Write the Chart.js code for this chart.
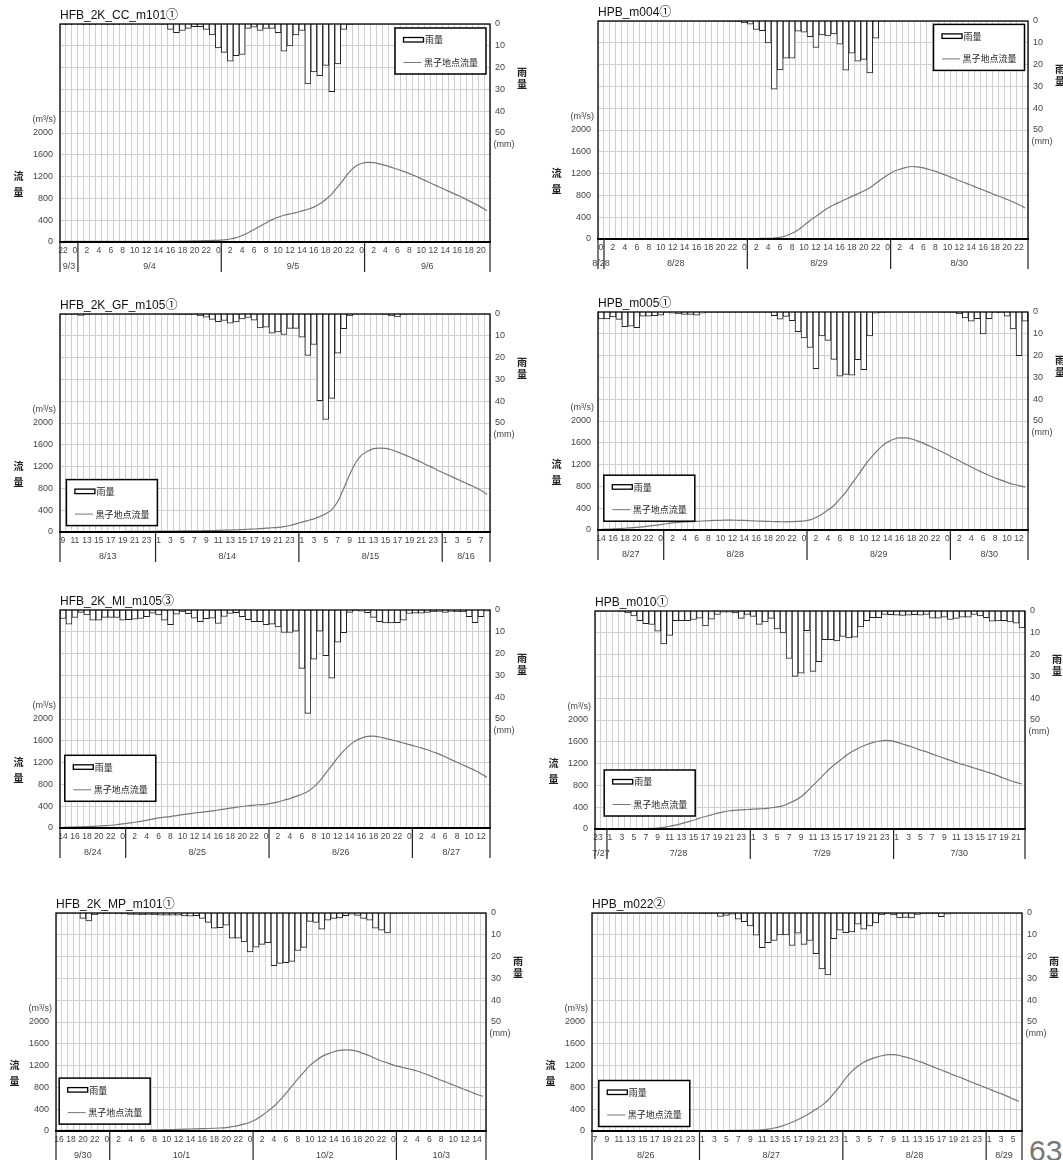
<!DOCTYPE html>
<html lang="ja">
<head>
<meta charset="UTF-8"/>
<title>雨量・黒子地点流量</title>
<script src="https://cdn.jsdelivr.net/npm/chart.js"></script>
<style>
  body { margin:0; width:1063px; height:1160px; overflow:hidden; background:#fff; position:relative; }
  .holder { position:absolute; width:540px; height:278px; }
  .page-no { position:absolute; left:1029px; top:1136px; font:30px "Liberation Sans", sans-serif; line-height:1; color:#777; }
</style>
</head>
<body>
<div class="page-no">63</div>
<script>
// ---- data (hourly, 72 slots per panel) ----
const titles = ['HFB_2K_CC_m101①','HPB_m004①','HFB_2K_GF_m105①','HPB_m005①',
                'HFB_2K_MI_m105③','HPB_m010①','HFB_2K_MP_m101①','HPB_m022②'];
const startHours = [22, 0, 9, 14, 14, 23, 16, 7];
const oddLabels  = [false, false, true, false, false, true, false, true];

const days1 = ['9/3','9/4','9/5','9/6'];
const days2 = ['8/28','8/28','8/29','8/30'];
const days3 = ['8/13','8/14','8/15','8/16'];
const days4 = ['8/27','8/28','8/29','8/30'];
const days5 = ['8/24','8/25','8/26','8/27'];
const days6 = ['7/27','7/28','7/29','7/30'];
const days7 = ['9/30','10/1','10/2','10/3'];
const days8 = ['8/26','8/27','8/28','8/29'];

const rain1 = [0.3,0.3,0,0.3,0.3,0.3,0,0.3,0.3,0.3,0,0,
               0,0,0,0,0,0.3,2.5,4,3,2,1.2,1.2,
               2.5,5,11,13,17,14.5,14,2,1.5,3,2,2,
               4,12.5,10,5,3,27.5,22,23.7,19,31,18.3,2.5,
               0.2,0,0,0,0,0,0,0,0,0,0,0,
               0,0,0,0,0,0,0,0,0,0,0,0];
const flow1 = [10,10,10,10,10,10,10,10,10,10,10,10,
               10,10,10,10,10,10,12,13,15,17,20,23,
               25,28,30,40,55,80,120,170,230,290,350,410,
               455,490,515,540,570,600,640,700,780,880,1010,1150,
               1290,1390,1440,1460,1455,1435,1405,1370,1335,1295,1255,1210,
               1160,1110,1060,1010,960,910,860,810,755,700,640,575];

const rain2 = [0,0,0,0,0,0,0,0,0,0,0,0,
               0,0,0,0,0,0,0,0.1,0.1,0.1,0.2,0.2,
               0.8,1.5,3.9,4.4,10.1,31.3,22.4,17.1,17.1,4.7,5.1,7.2,
               12.1,6.4,6.9,5.9,10.6,22.6,14.8,18.4,17.6,23.8,7.9,0.3,
               0,0,0,0,0,0,0,0,0,0,0,0,
               0,0,0,0,0,0,0,0,0,0,0,0];
const flow2 = [8,8,8,8,8,8,8,8,8,8,8,8,
               8,8,8,8,8,8,8,8,8,8,8,8,
               8,8,9,10,12,18,30,60,105,165,250,340,
               415,495,570,630,680,730,780,830,880,940,1020,1100,
               1175,1240,1280,1310,1330,1325,1305,1275,1240,1200,1160,1115,
               1070,1030,985,940,900,855,810,770,725,680,630,570];

const rain3 = [0.3,0.3,0.3,0.6,0.3,0,0,0,0,0,0,0,
               0,0,0,0,0,0,0,0.2,0.2,0.2,0.3,0.8,
               1.5,2.5,3.5,3,4.2,3.6,2.3,1.6,2.8,6.4,6,8.8,
               8.2,9.4,6.6,6.6,10.6,19,14,39.8,48.4,38.7,18,6.7,
               0.8,0,0,0,0,0,0.3,0.8,1.3,0.3,0,0,
               0,0,0,0,0,0,0,0,0,0,0,0];
const flow3 = [5,5,5,5,5,5,6,6,7,8,9,10,
               11,12,13,14,15,16,17,18,20,21,22,23,
               25,27,30,33,35,40,45,50,55,62,70,78,
               85,100,120,150,180,210,240,285,335,410,560,800,
               1050,1270,1410,1480,1530,1540,1535,1510,1470,1425,1380,1330,
               1280,1225,1175,1120,1070,1020,970,920,870,820,760,690];

const rain4 = [3.2,3.2,2.2,3.4,6.7,6.5,7.2,1.9,1.9,1.7,1.5,0.3,
               0.5,0.8,1.1,1.1,1.4,0.5,0.1,0.1,0.1,0.1,0.1,0.1,
               0.1,0.1,0.1,0.1,0.1,1.7,3.3,2,4,9,11.9,16.3,
               26,11,13,21.7,29.4,28.6,29,21.9,26.4,11,0.5,0.2,
               0,0,0,0,0,0,0,0,0,0.1,0.1,0.1,
               0.8,2.7,4.2,3.1,10,3.1,0.3,0.3,1.9,7.8,20,4.2];
const flow4 = [12,15,20,25,32,40,48,58,70,85,100,115,
               130,140,148,155,160,165,170,175,178,180,180,178,
               175,170,165,162,158,155,152,150,155,160,165,185,
               230,290,365,450,570,695,850,1000,1160,1300,1425,1535,
               1615,1665,1690,1690,1670,1635,1590,1540,1490,1440,1385,1325,
               1270,1210,1155,1100,1050,1000,955,915,875,840,815,785];

const rain5 = [3.9,6.5,3.4,1.1,2.3,4.7,4.7,3.4,3.4,3.4,4.7,4.4,
               4.2,3.9,3.1,1.4,2.3,4.7,6.7,1.9,0.8,1.7,3.7,5.4,
               4,3.7,6.2,3,1.6,1.2,3.1,4.4,5.3,5.3,6.7,6.5,
               7.8,10.3,10.3,9.7,26.8,47.4,22.6,9.7,20.9,31.3,14.8,10.4,
               1.1,0.3,0.5,1.2,3.4,5.3,5.9,5.9,5.8,4.7,1.6,1.4,
               1.4,1.1,0.8,0.6,1.1,0.6,0.8,0.9,3.1,5.8,3.1,0.5];
const flow5 = [12,15,18,21,25,30,37,43,50,60,75,90,
               105,122,140,162,185,198,210,228,245,260,275,288,
               300,315,330,348,365,380,395,408,420,428,435,455,
               480,510,540,580,620,670,755,865,1005,1145,1290,1415,
               1520,1600,1650,1680,1685,1670,1645,1620,1590,1560,1530,1500,
               1470,1435,1395,1355,1305,1255,1205,1155,1105,1055,995,930];

const rain6 = [0.1,0.1,0,0,0.3,0.9,2.2,4.4,5.8,6.2,9.3,15.1,
               11.2,4.4,4.4,4.4,3.9,3.3,6.8,3.7,1.6,0.5,0.5,0.9,
               3.4,1.6,2.5,6.1,5,3.4,8.2,10.1,21.8,30,28.5,9,
               27.7,23.3,13.2,13.2,13.7,11.7,12.4,12,7.3,4.4,3.1,3.1,
               1.6,1.7,1.9,2,1.9,1.7,1.9,1.6,3.3,3.3,2.8,3.9,
               3.4,2.8,2.8,1.6,2.2,3.1,4.7,4.5,4.4,5,5.6,7.8];
const flow6 = [5,5,5,5,5,5,5,6,7,10,18,30,
               50,70,100,130,160,200,230,260,290,315,335,345,
               352,358,365,370,375,390,405,430,475,525,590,690,
               800,905,1020,1125,1215,1300,1385,1450,1505,1550,1585,1610,
               1625,1620,1595,1560,1525,1490,1450,1415,1375,1335,1295,1260,
               1220,1185,1155,1120,1085,1050,1015,975,930,890,855,825];

const rain7 = [0.1,0.1,0.1,0.1,2.5,3.6,0.8,0.3,0.2,0.3,0.4,0.4,
               0.6,0.6,0.8,0.7,0.8,1,1,1,1,1.3,1.5,1.2,
               2.5,4.3,7,6.7,5.6,11.6,11.6,13.3,17.8,15.7,14.4,13.6,
               24.2,23.1,22.8,22.2,17.2,15.8,3.9,4.3,7.4,3.3,2.5,2.3,
               1.2,0.5,1.1,2.5,3.3,7,7.9,9.1,0.2,0.1,0.1,0,
               0,0,0,0,0,0,0,0,0,0,0,0];
const flow7 = [12,12,12,12,12,12,12,12,12,12,12,14,
               15,16,18,19,21,23,25,27,30,33,37,40,
               43,46,50,55,62,80,100,125,160,210,285,365,
               455,565,690,825,955,1080,1200,1290,1365,1415,1455,1480,
               1490,1485,1460,1420,1380,1330,1285,1250,1210,1180,1155,1130,
               1100,1060,1020,975,930,890,845,800,760,715,670,635];

const rain8 = [0,0,0,0,0,0,0,0,0,0,0,0,
               0,0,0,0.1,0.1,0.1,0.2,0.2,0.3,1.6,1.1,0.5,
               2.8,4,5.9,10.2,15.9,13.6,12.6,10,10,14.9,9.3,14.4,
               12.6,18.6,25.7,28.4,11.8,7.9,9,8.7,5.1,7.4,5.9,4.5,
               0.8,0.2,0.9,2.3,2,2.3,0.6,0.2,0.2,0.2,1.7,0.5,
               0.1,0,0,0,0,0,0,0,0,0,0,0];
const flow8 = [5,5,5,5,5,5,5,5,5,5,5,5,
               5,5,5,5,5,5,6,6,7,8,9,10,
               10,11,12,15,22,35,55,80,120,160,210,265,
               330,400,470,565,690,825,970,1095,1185,1260,1310,1350,
               1380,1400,1400,1385,1355,1325,1285,1250,1205,1160,1120,1075,
               1030,990,945,900,855,815,770,725,685,640,590,540];

const rains = [rain1, rain2, rain3, rain4, rain5, rain6, rain7, rain8];
const flows = [flow1, flow2, flow3, flow4, flow5, flow6, flow7, flow8];
const dayLists = [days1, days2, days3, days4, days5, days6, days7, days8];

// ---- placement (canvas top-left, legend offset inside the plot) ----
const placement = [
  { pos:[0, 4],     legend:[335, 4] },
  { pos:[538, 1],   legend:[335.5, 3.4] },
  { pos:[0, 294],   legend:[6.4, 165.6] },
  { pos:[538, 292], legend:[5.8, 163.2] },
  { pos:[0, 590],   legend:[4.8, 145.3] },
  { pos:[535, 591], legend:[9.2, 159] },
  { pos:[-4, 893],  legend:[3.2, 165.1] },
  { pos:[532, 893], legend:[6.8, 167.5] }
];

const FONT = '"Liberation Sans", "Noto Sans CJK JP", sans-serif';
const JP = '"Noto Sans CJK JP", sans-serif';
Chart.defaults.font.family = FONT;
Chart.defaults.color = '#444';

function hourLabels(start) {
  const out = [];
  for (let i = 0; i < 72; i++) out.push(String((start + i) % 24));
  return out;
}

// titles, frame, day row, axis captions and the boxed legend
function decor(p) {
  return {
    id: 'decor',
    afterDraw(chart) {
      const { ctx, chartArea: a, scales } = chart;
      const labels = chart.data.labels;
      const n = labels.length;
      const w = (a.right - a.left) / n;
      ctx.save();

      ctx.fillStyle = '#111';
      ctx.font = '12px ' + FONT;
      ctx.textAlign = 'left';
      ctx.textBaseline = 'middle';
      ctx.fillText(p.title, a.left, a.top - 8.5);

      ctx.strokeStyle = '#000';
      ctx.lineWidth = 1.3;
      ctx.strokeRect(a.left, a.top, a.right - a.left, a.bottom - a.top);
      ctx.lineWidth = 2;
      ctx.beginPath();
      ctx.moveTo(a.left - 1, a.bottom);
      ctx.lineTo(a.right + 1, a.bottom);
      ctx.stroke();

      // day separators below the axis
      const cuts = [0];
      labels.forEach((h, i) => { if (h === '0' && i < n - 1) cuts.push(i + 1); });
      cuts.push(n);
      ctx.lineWidth = 1.2;
      ctx.strokeStyle = '#222';
      ctx.beginPath();
      cuts.forEach(c => {
        const px = a.left + c * w;
        ctx.moveTo(px, a.bottom);
        ctx.lineTo(px, a.bottom + 30);
      });
      ctx.stroke();
      ctx.fillStyle = '#444';
      ctx.font = '9px ' + FONT;
      ctx.textAlign = 'center';
      p.days.forEach((d, k) => {
        const x0 = a.left + cuts[k] * w, x1 = a.left + cuts[k + 1] * w;
        ctx.fillText(d, (x0 + x1) / 2, a.bottom + 25);
      });

      // axis captions
      const yQ = scales.yQ, yR = scales.yR;
      ctx.textAlign = 'right';
      ctx.fillText('(m³/s)', a.left - 4, yQ.getPixelForValue(2000) - 13);
      ctx.textAlign = 'left';
      ctx.fillText('(mm)', a.right + 3.5, yR.getPixelForValue(50) + 12);
      ctx.font = 'bold 10px ' + JP;
      ctx.fillStyle = '#222';
      ctx.textAlign = 'center';
      const qy = yQ.getPixelForValue(1200);
      ctx.fillText('流', a.left - 41.5, qy);
      ctx.fillText('量', a.left - 41.5, qy + 16);
      ctx.fillText('雨', a.right + 32, a.top + 48.5);
      ctx.fillText('量', a.right + 32, a.top + 60);

      // legend box
      const lx = a.left + p.legend[0], ly = a.top + p.legend[1];
      ctx.fillStyle = '#fff';
      ctx.fillRect(lx, ly, 91, 46);
      ctx.strokeStyle = '#000';
      ctx.lineWidth = 1.5;
      ctx.strokeRect(lx, ly, 91, 46);
      ctx.lineWidth = 1.3;
      ctx.strokeRect(lx + 8.5, ly + 9.5, 20, 4.5);
      ctx.strokeStyle = '#777';
      ctx.lineWidth = 1;
      ctx.beginPath();
      ctx.moveTo(lx + 8.5, ly + 34.5);
      ctx.lineTo(lx + 26.5, ly + 34.5);
      ctx.stroke();
      const ds = chart.data.datasets;
      ctx.fillStyle = '#222';
      ctx.font = '9px ' + JP;
      ctx.textAlign = 'left';
      ctx.fillText(ds[1].label, lx + 30, ly + 12);
      ctx.fillText(ds[0].label, lx + 29, ly + 34.5);
      ctx.restore();
    }
  };
}

function buildPanel(k) {
  const pl = placement[k];
  const holder = document.createElement('div');
  holder.className = 'holder';
  holder.style.left = pl.pos[0] + 'px';
  holder.style.top = pl.pos[1] + 'px';
  const cv = document.createElement('canvas');
  cv.width = 540; cv.height = 278;
  holder.appendChild(cv);
  document.body.appendChild(holder);

  const parity = oddLabels[k] ? 1 : 0;
  const p = { title: titles[k], days: dayLists[k], legend: pl.legend };

  new Chart(cv, {
    type: 'bar',
    data: {
      labels: hourLabels(startHours[k]),
      datasets: [
        { type:'line', label:'黒子地点流量', data: flows[k], yAxisID:'yQ',
          borderColor:'#777', borderWidth:1.2, pointRadius:0, fill:false,
          cubicInterpolationMode:'monotone' },
        { type:'bar', label:'雨量', data: rains[k], yAxisID:'yR',
          backgroundColor:'#fff', borderColor:'#222', borderWidth:1,
          barPercentage:1, categoryPercentage:1 }
      ]
    },
    options: {
      responsive:false, animation:false, devicePixelRatio:1,
      layout:{ padding:{ top:20, left:0, right:0, bottom:0 } },
      plugins:{ legend:{ display:false }, tooltip:{ enabled:false } },
      scales:{
        x:{
          offset:true,
          grid:{ offset:true, color:'#d0d0d0', drawTicks:false },
          border:{ display:false },
          ticks:{ autoSkip:false, maxRotation:0, minRotation:0, padding:4,
                  color:'#444', font:{ size:8.5 },
                  callback(v) { const h = this.getLabelForValue(v); return Number(h) % 2 === parity ? h : ''; } },
          afterFit(s) { s.height = 40; }
        },
        yQ:{
          position:'left', min:0, max:4000,
          grid:{ color:'#d0d0d0', drawTicks:false },
          border:{ display:false },
          ticks:{ stepSize:400, padding:7, color:'#444', font:{ size:9 },
                  callback: v => v <= 2000 ? v : '' },
          afterFit(s) { s.width = 60; }
        },
        yR:{
          position:'right', reverse:true, min:0, max:100,
          grid:{ display:false, drawTicks:false },
          border:{ display:false },
          ticks:{ stepSize:10, padding:5, color:'#444', font:{ size:9 },
                  callback: v => v <= 50 ? v : '' },
          afterFit(s) { s.width = 50; }
        }
      }
    },
    plugins:[ decor(p) ]
  });
}

for (let k = 0; k < 8; k++) buildPanel(k);
</script>
</body>
</html>
